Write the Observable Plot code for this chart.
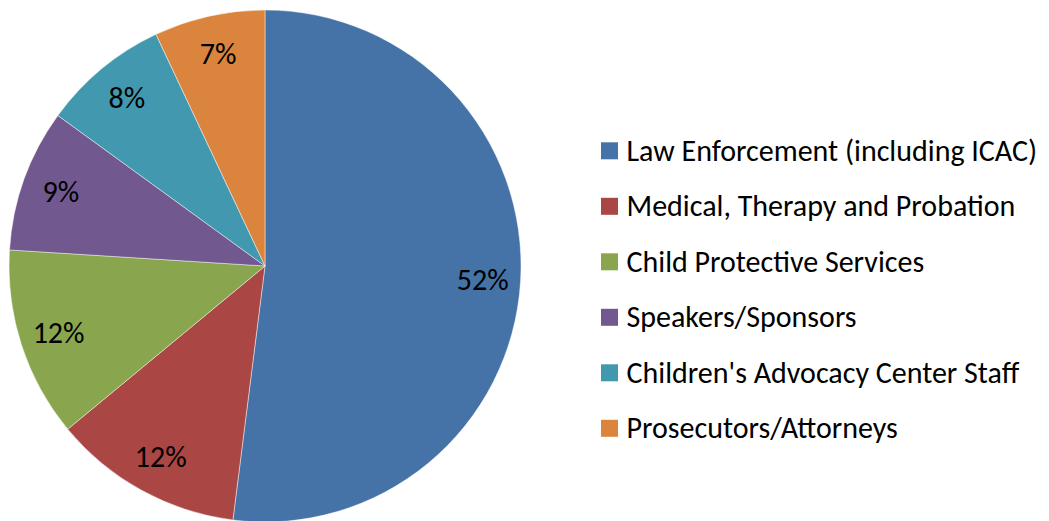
<!DOCTYPE html>
<html>
<head>
<meta charset="utf-8">
<script src="https://cdn.jsdelivr.net/npm/d3@7"></script>
<script src="https://cdn.jsdelivr.net/npm/@observablehq/plot@0.6"></script>
<style>
  html, body { margin: 0; padding: 0; background: #fff; }
  #chart svg { display: block; }
</style>
</head>
<body>
<div id="chart"></div>
<script>
// ---- data ----
const categories = [
  "Law Enforcement (including ICAC)",
  "Medical, Therapy and Probation",
  "Child Protective Services",
  "Speakers/Sponsors",
  "Children's Advocacy Center Staff",
  "Prosecutors/Attorneys"
];
const values = [52, 12, 12, 9, 8, 7];
const colors = ["#4572A7", "#AA4643", "#89A54E", "#71588F", "#4198AF", "#DB843D"];

// ---- layout ----
const W = 1049, H = 521;
const cx = 265, cy = 266, R = 256;
const labelR = 0.85 * R;
const font = "Carlito, Calibri, Lato, sans-serif";
const fontSize = 30;
const legendSquareX = 601, legendSquareSize = 17, legendTextX = 626;
const legendFirstCenter = 150.8, legendStep = 55.5;

const rows = categories.map((c, i) => ({category: c, value: values[i]}));
const arcs = d3.pie().value(d => d.value).sort(null).startAngle(0).endAngle(2 * Math.PI)(rows);
const labelArc = d3.arc().innerRadius(labelR).outerRadius(labelR);
const labels = arcs.map(a => {
  const [dx, dy] = labelArc.centroid(a);
  return {x: cx + dx, y: cy + dy, text: `${a.data.value}%`};
});

function pieMark(index, scales) {
  const g = d3.create("svg:g");
  const x0 = scales.x(cx), y0 = scales.y(cy);
  const r = scales.x(cx + R) - x0;
  const arc = d3.arc().innerRadius(0).outerRadius(r);
  g.attr("transform", `translate(${x0},${y0})`)
    .selectAll("path")
    .data(arcs)
    .join("path")
    .attr("d", arc)
    .attr("fill", d => scales.color(d.data.category))
    .attr("stroke", "#ffffff")
    .attr("stroke-opacity", 0.6)
    .attr("stroke-width", 0.75);
  return g.node();
}

const chart = Plot.plot({
  width: W,
  height: H,
  margin: 0,
  x: {type: "linear", domain: [0, W], range: [0, W], axis: null},
  y: {type: "linear", domain: [0, H], range: [0, H], axis: null},
  color: {type: "ordinal", domain: categories, range: colors},
  style: {background: "#fff", fontFamily: font},
  marks: [
    pieMark,
    Plot.text(labels, {
      x: "x", y: "y", text: "text",
      fontSize, fontFamily: font, fill: "#000", textAnchor: "middle", lineAnchor: "middle"
    }),
    Plot.rect(rows, {
      x1: () => legendSquareX,
      x2: () => legendSquareX + legendSquareSize,
      y1: (d, i) => legendFirstCenter + i * legendStep - legendSquareSize / 2,
      y2: (d, i) => legendFirstCenter + i * legendStep + legendSquareSize / 2,
      fill: "category"
    }),
    Plot.text(rows, {
      x: () => legendTextX,
      y: (d, i) => legendFirstCenter + i * legendStep,
      text: "category",
      textAnchor: "start", lineAnchor: "middle",
      fontSize, fontFamily: font, fill: "#000"
    })
  ]
});
document.getElementById("chart").append(chart);
</script>
</body>
</html>
